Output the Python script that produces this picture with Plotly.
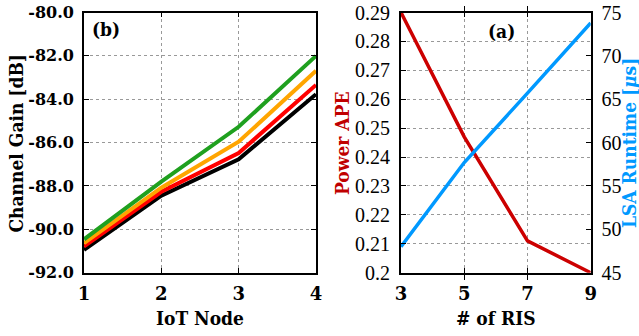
import plotly.graph_objects as go

# ---- data ----
iot_nodes = [1, 2, 3, 4]
gain_green = [-90.46, -87.80, -85.27, -82.00]
gain_orange = [-90.64, -88.08, -85.96, -82.69]
gain_red = [-90.79, -88.27, -86.48, -83.34]
gain_black = [-90.95, -88.45, -86.77, -83.77]

ris_count = [3, 5, 7, 9]
power_ape = [0.290, 0.247, 0.211, 0.200]
lsa_runtime = [48.0, 57.7, 65.7, 73.8]

gain_ticks = [-92, -90, -88, -86, -84, -82, -80]
gain_ticktext = ["-92.0", "-90.0", "-88.0", "-86.0", "-84.0", "-82.0", "-80.0"]
ape_ticks = [0.20, 0.21, 0.22, 0.23, 0.24, 0.25, 0.26, 0.27, 0.28, 0.29]
ape_ticktext = ["0.2", "0.21", "0.22", "0.23", "0.24", "0.25", "0.26", "0.27", "0.28", "0.29"]
rt_ticks = [45, 50, 55, 60, 65, 70, 75]

W, H = 639, 336
BOLD = "DejaVu Serif"
COND = "DejaVu Serif Condensed, DejaVu Serif"
CM = "Liberation Serif"

fig = go.Figure()
for ys, col in [(gain_black, "#000000"), (gain_red, "#ff0000"),
                (gain_orange, "#ffa500"), (gain_green, "#1fa01f")]:
    fig.add_trace(go.Scatter(x=iot_nodes, y=ys, mode="lines",
                             line=dict(color=col, width=4),
                             xaxis="x", yaxis="y", showlegend=False))

fig.add_trace(go.Scatter(x=ris_count, y=power_ape, mode="lines",
                         line=dict(color="#cc0000", width=3.5),
                         xaxis="x2", yaxis="y2", showlegend=False))
fig.add_trace(go.Scatter(x=ris_count, y=lsa_runtime, mode="lines",
                         line=dict(color="#0099ff", width=3.5),
                         xaxis="x2", yaxis="y3", showlegend=False))

ydom = [1 - 272.7 / H, 1 - 12.5 / H]
common = dict(showline=True, linecolor="black", linewidth=1.8, mirror="allticks",
              ticks="inside", ticklen=5, tickcolor="black",
              showgrid=True, gridcolor="#999999", griddash="dot", gridwidth=1,
              zeroline=False, automargin=False)

fig.update_layout(
    width=W, height=H,
    margin=dict(l=0, r=0, t=0, b=0, pad=0, autoexpand=False),
    paper_bgcolor="white", plot_bgcolor="white",
    xaxis=dict(domain=[84 / W, 316 / W], range=[1, 4], tickvals=iot_nodes,
               tickfont=dict(family=BOLD, size=18, color="black", weight="bold"),
               ticklabelstandoff=4, anchor="y", **common),
    yaxis=dict(domain=ydom, range=[-92, -80], tickvals=gain_ticks, ticktext=gain_ticktext,
               tickfont=dict(family=BOLD, size=16, color="black", weight="bold"),
               ticklabelstandoff=5, anchor="x", **common),
    xaxis2=dict(domain=[401 / W, 590.7 / W], range=[3, 9], tickvals=ris_count,
                tickfont=dict(family=BOLD, size=18, color="black", weight="bold"),
                ticklabelstandoff=4, anchor="y2", **common),
    yaxis2=dict(domain=ydom, range=[0.2, 0.29], tickvals=ape_ticks, ticktext=ape_ticktext,
                tickfont=dict(family=CM, size=20, color="black"),
                ticklabelstandoff=5, anchor="x2", **{**common, "mirror": False}),
    yaxis3=dict(domain=ydom, range=[45, 75], tickvals=rt_ticks, overlaying="y2",
                side="right", anchor="x2",
                tickfont=dict(family=CM, size=20, color="black"),
                ticklabelstandoff=5, showline=True, linecolor="black", linewidth=1.8,
                ticks="inside", ticklen=5, tickcolor="black", showgrid=False,
                zeroline=False, automargin=False),
)

ann_font = dict(family=COND, size=19, color="black", weight="bold")
annots = [
    dict(text="IoT Node", x=200 / W, y=1 - 318 / H, font=ann_font),
    dict(text="# of RIS", x=496 / W, y=1 - 318 / H, font=ann_font),
    dict(text="Channel Gain [dB]", x=15.5 / W, y=1 - 144 / H, textangle=-90, font=ann_font),
    dict(text="Power APE", x=342 / W, y=1 - 143 / H, textangle=-90,
         font=dict(family=COND, size=19, color="#c00000", weight="bold")),
    dict(text="LSA Runtime [<i>μ</i>s]", x=629 / W, y=1 - 143 / H, textangle=-90,
         font=dict(family=COND, size=19, color="#0099ff", weight="bold")),
    dict(text="(b)", x=106 / W, y=1 - 29 / H, font=ann_font),
    dict(text="(a)", x=501 / W, y=1 - 31 / H, font=ann_font),
]
for a in annots:
    fig.add_annotation(xref="paper", yref="paper", showarrow=False,
                       xanchor="center", yanchor="middle", **a)

fig.write_html("out.html", config={"displayModeBar": False},
               post_script="document.body.style.margin='0';document.body.style.overflow='hidden';")
